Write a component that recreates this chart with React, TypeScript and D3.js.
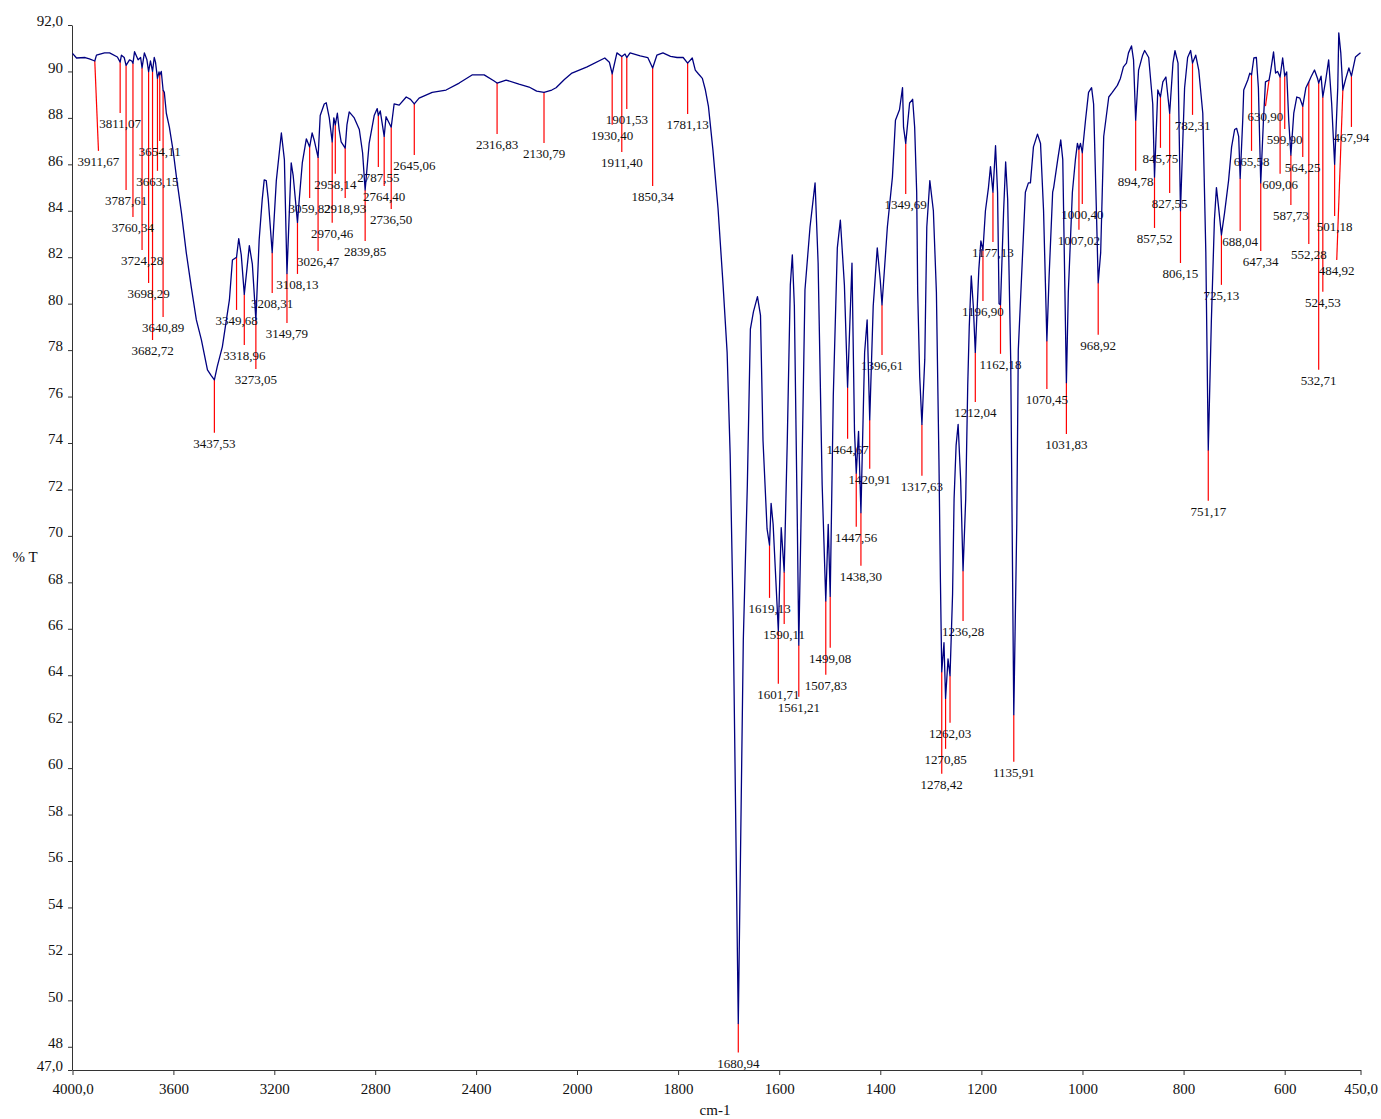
import { useEffect, useRef } from 'react';
import * as d3 from 'd3';

// IR spectrum, [wavenumber cm-1, %T]
const spectrum: [number, number][] = [
  [4000, 90.78], [3984, 90.58], [3950, 90.6], [3933, 90.54], [3911.67, 90.45], [3905, 90.7],
  [3873, 90.8], [3853, 90.8], [3822, 90.62], [3811.07, 90.4], [3806, 90.7], [3795, 90.6],
  [3787.61, 90.26], [3774, 90.5], [3765, 90.45], [3760.34, 90.35], [3754, 90.85], [3740, 90.5],
  [3730, 90.6], [3724.28, 90.15], [3715, 90.8], [3705, 90.5], [3698.29, 89.99], [3691, 90.45],
  [3682.72, 90.0], [3676, 90.6], [3671, 90.4], [3663.15, 89.7], [3657, 89.98], [3654.11, 89.85],
  [3648, 90.0], [3640.89, 89.2], [3636, 89.1], [3628, 88.2], [3616, 87.6], [3600, 86.5],
  [3588, 85.46], [3568, 83.9], [3549, 82.2], [3529, 80.7], [3509, 79.3], [3489, 78.44],
  [3465, 77.15], [3450, 76.9], [3437.53, 76.72], [3426, 77.3], [3406, 78.14], [3378, 80.16],
  [3366, 81.88], [3349.68, 82.0], [3341, 82.8], [3331, 82.1], [3318.96, 80.4], [3299, 82.5],
  [3287, 81.7], [3273.05, 79.3], [3260, 82.75], [3248, 84.47], [3240, 85.33], [3232, 85.3],
  [3224, 84.5], [3208.31, 82.2], [3192, 85.3], [3172, 87.35], [3160, 86.2], [3149.79, 81.3],
  [3133, 86.06], [3125, 85.5], [3108.13, 83.5], [3101, 84.5], [3089, 86.06], [3073, 87.1],
  [3059.82, 86.75], [3050, 87.35], [3042, 87.05], [3026.47, 86.3], [3018, 88.1], [3002, 88.6],
  [2994, 88.65], [2982, 88.0], [2970.46, 86.97], [2964, 88.0], [2958.14, 87.7], [2950, 88.2],
  [2943, 87.5], [2935, 86.97], [2918.93, 86.7], [2912, 87.7], [2903, 88.26], [2883, 88.0],
  [2863, 87.5], [2850, 86.5], [2839.85, 84.9], [2824, 86.9], [2804, 88.1], [2792, 88.4],
  [2787.55, 88.1], [2780, 88.3], [2764.4, 87.2], [2757, 88.05], [2736.5, 87.6], [2725, 88.6],
  [2705, 88.55], [2677, 88.9], [2660, 88.8], [2645.06, 88.6], [2626, 88.85], [2574, 89.1],
  [2519, 89.2], [2467, 89.5], [2416, 89.85], [2368, 89.85], [2330, 89.6], [2316.83, 89.5],
  [2281, 89.63], [2230, 89.45], [2190, 89.33], [2160, 89.15], [2130.79, 89.1], [2100, 89.2],
  [2083, 89.3], [2050, 89.65], [2020, 89.93], [1980, 90.2], [1945, 90.58], [1936, 90.4],
  [1930.4, 89.9], [1921, 90.8], [1911.4, 90.64], [1905, 90.75], [1901.53, 90.6], [1895, 90.8],
  [1875, 90.67], [1860, 90.6], [1850.34, 90.15], [1842, 90.7], [1830, 90.8], [1815, 90.65],
  [1802, 90.6], [1790, 90.6], [1781.13, 90.36], [1772, 90.58], [1766, 90.06], [1760, 89.9],
  [1752, 89.7], [1746, 89.2], [1740, 88.5], [1731, 86.6], [1721, 84.1], [1711, 80.8],
  [1703, 77.9], [1697, 73.5], [1691, 66.4], [1680.94, 49.0], [1671, 65.5], [1663, 72.2],
  [1657, 78.9], [1651, 79.65], [1643, 80.3], [1637, 79.5], [1632, 74.1], [1624, 70.3],
  [1619.13, 69.6], [1616, 71.4], [1612, 70.5], [1601.71, 65.9], [1596, 70.35], [1590.11, 68.45],
  [1584, 74.1], [1578, 80.8], [1574, 82.1], [1570, 79.9], [1564, 70.3], [1561.21, 65.3],
  [1554, 74.1], [1549, 80.6], [1539, 83.3], [1529, 85.2], [1523, 81.75], [1515, 72.2],
  [1507.83, 67.2], [1503, 70.5], [1499.08, 67.4], [1493, 76.0], [1485, 82.4], [1479, 83.6],
  [1471, 80.8], [1464.67, 76.4], [1456, 81.75], [1451, 74.5], [1447.56, 72.7], [1443, 74.5],
  [1438.3, 71.0], [1431, 77.9], [1426, 79.3], [1420.91, 75.0], [1414, 79.9], [1406, 82.4],
  [1400, 81.0], [1396.61, 79.95], [1386, 83.3], [1376, 85.45], [1370, 87.9], [1362, 88.35],
  [1356, 89.3], [1354, 87.6], [1349.69, 86.9], [1342, 88.64], [1336, 88.8], [1332, 87.6],
  [1328, 84.8], [1326, 80.5], [1322, 76.85], [1317.63, 74.8], [1312, 77.6], [1308, 83.3],
  [1302, 85.3], [1295, 84.0], [1289, 80.5], [1284, 73.3], [1281, 68], [1278.42, 64.15],
  [1274, 65.4], [1270.85, 63.0], [1266, 64.7], [1262.03, 63.98], [1257, 67.5], [1254, 71.6],
  [1250, 73.9], [1246, 74.8], [1241, 72.4], [1236.28, 68.5], [1231, 71.6], [1227, 76.5],
  [1224, 79.0], [1220, 81.2], [1216, 79.9], [1212.04, 77.9], [1205, 81.5], [1201, 82.7],
  [1196.9, 82.3], [1192, 84.0], [1186, 85.0], [1182, 85.9], [1177.13, 84.8], [1172, 86.8],
  [1168, 84.8], [1165, 80.0], [1162.18, 79.95], [1156, 84.0], [1152, 86.1], [1148, 84.5],
  [1142, 77.6], [1135.91, 62.3], [1130, 70.5], [1127, 78.0], [1119, 81.9], [1113, 84.8],
  [1107, 85.2], [1103, 85.2], [1097, 86.75], [1089, 87.3], [1083, 86.9], [1077, 84.0],
  [1070.45, 78.4], [1066, 81.2], [1059, 84.8], [1057, 85.0], [1049, 86.2], [1043, 87.05],
  [1039, 86.2], [1031.83, 76.6], [1028, 80.5], [1020, 84.8], [1014, 86.2], [1010, 86.9],
  [1007.02, 86.65], [1004, 86.9], [1000.4, 86.5], [994, 87.9], [988, 89.1], [982, 89.3],
  [978, 88.6], [972, 83.6], [968.92, 80.9], [964, 82.2], [958, 87.2], [948, 88.9],
  [941, 89.1], [931, 89.4], [925, 89.7], [919, 90.2], [913, 90.36], [909, 90.8],
  [903, 91.1], [899, 90.5], [894.78, 87.9], [889, 90.06], [881, 90.7], [877, 90.9],
  [869, 90.6], [861, 88.6], [857.52, 85.45], [851, 89.2], [845.75, 88.9], [841, 89.55],
  [835, 89.76], [827.55, 88.2], [821, 90.36], [817, 90.9], [811, 90.36], [806.15, 84.0],
  [798, 89.3], [792, 90.6], [786, 90.9], [782.31, 90.36], [776, 90.7], [770, 90.06],
  [762, 88.2], [756, 82.2], [751.17, 73.7], [745, 79.3], [739, 83.6], [735, 85.0],
  [731, 84.2], [725.13, 82.96], [719, 83.9], [711, 85.3], [705, 86.75], [699, 87.5],
  [695, 87.55], [691, 87.2], [688.04, 85.4], [683, 87.9], [681, 89.2], [673, 89.63],
  [669, 89.93], [665.58, 89.85], [661, 90.58], [656, 90.6], [652, 89.3], [647.34, 85.2],
  [642, 87.9], [638, 89.55], [630.9, 89.63], [628, 89.98], [622, 90.84], [618, 89.93],
  [614, 90.0], [609.06, 89.76], [604, 90.58], [599.9, 89.8], [596, 89.98], [592, 87.9],
  [587.73, 86.4], [582, 88.2], [576, 88.9], [570, 88.85], [564.25, 88.5], [558, 89.3],
  [552.28, 89.55], [548, 89.76], [541, 90.06], [535, 89.7], [532.71, 89.5], [528, 89.8],
  [524.53, 88.9], [519, 89.6], [513, 90.5], [507, 88.6], [501.18, 86.0], [495, 89.3],
  [493, 91.66], [489, 90.8], [484.92, 89.2], [479, 89.7], [473, 90.15], [467.94, 89.8],
  [460, 90.62], [450, 90.8]
];

// picked peaks: [wavenumber, %T where the marker line ends, wavenumber of the label (if shifted)]
const peaks: [number, number, number?][] = [
  [3911.67, 86.58, 3897], [3811.07, 88.21], [3787.61, 84.9], [3760.34, 83.73], [3724.28, 82.31],
  [3698.29, 80.89], [3682.72, 78.44], [3663.15, 85.72], [3654.11, 87.01], [3640.89, 79.43],
  [3437.53, 74.44], [3349.68, 79.73], [3318.96, 78.22], [3273.05, 77.19], [3208.31, 80.46],
  [3149.79, 79.17], [3108.13, 81.28], [3059.82, 84.55], [3026.47, 82.27], [2970.46, 83.48],
  [2958.14, 85.59], [2918.93, 84.55], [2839.85, 82.7], [2787.55, 85.89], [2764.4, 85.07],
  [2736.5, 84.08], [2645.06, 86.4], [2316.83, 87.31], [2130.79, 86.92], [1930.4, 87.7],
  [1911.4, 86.53], [1901.53, 88.38], [1850.34, 85.07], [1781.13, 88.17], [1680.94, 47.75],
  [1619.13, 67.33], [1601.71, 63.63], [1590.11, 66.21], [1561.21, 63.07], [1507.83, 64.02],
  [1499.08, 65.18], [1464.67, 74.18], [1447.56, 70.39], [1438.3, 68.71], [1420.91, 72.89],
  [1396.61, 77.79], [1349.69, 84.72], [1317.63, 72.59], [1278.42, 59.76], [1270.85, 60.83],
  [1262.03, 61.95], [1236.28, 66.34], [1212.04, 75.77], [1196.9, 80.12], [1177.13, 82.66],
  [1162.18, 77.84], [1135.91, 60.27], [1070.45, 76.33], [1031.83, 74.39], [1007.02, 83.18],
  [1000.4, 84.29], [968.92, 78.66], [894.78, 85.72], [857.52, 83.26], [845.75, 86.71],
  [827.55, 84.77], [806.15, 81.75], [782.31, 88.13], [751.17, 71.51], [725.13, 80.81],
  [688.04, 83.13], [665.58, 86.58], [647.34, 82.27], [630.9, 88.51, 638], [609.06, 85.59],
  [599.9, 87.52], [587.73, 84.25], [564.25, 86.32], [552.28, 82.57], [532.71, 77.15],
  [524.53, 80.51], [501.18, 83.78], [484.92, 81.88, 497], [467.94, 87.61]
];

const xTicks = [4000, 3600, 3200, 2800, 2400, 2000, 1800, 1600, 1400, 1200, 1000, 800, 600, 450];
const yTicks = [92, 90, 88, 86, 84, 82, 80, 78, 76, 74, 72, 70, 68, 66, 64, 62, 60, 58, 56, 54, 52, 50, 48, 47];

const FONT = '"Liberation Serif", "DejaVu Serif", serif';

export default function App() {
  const svgRef = useRef<SVGSVGElement>(null);

  useEffect(() => {
    if (!svgRef.current) return;
    const svg = d3.select(svgRef.current);
    svg.selectAll('*').remove();

    // the wavenumber axis changes scale at 2000 cm-1
    const x = d3.scaleLinear().domain([4000, 2000, 450]).range([72.5, 577, 1360.5]);
    const y = d3.scaleLinear().domain([47, 92]).range([1070, 25]);

    const tAt = (wn: number) => {
      for (let i = 0; i < spectrum.length - 1; i++) {
        const [w0, t0] = spectrum[i];
        const [w1, t1] = spectrum[i + 1];
        if (wn <= w0 && wn >= w1) return t0 + ((w0 - wn) / (w0 - w1)) * (t1 - t0);
      }
      return spectrum[spectrum.length - 1][1];
    };

    const fmt = (v: number, d: number) => v.toFixed(d).replace('.', ',');

    // axes
    const yAxis = d3
      .axisLeft(y)
      .tickValues(yTicks)
      .tickSize(4)
      .tickSizeOuter(0)
      .tickPadding(5)
      .tickFormat((d) => (d === 92 || d === 47 ? fmt(+d, 1) : String(d)));
    const gy = svg.append('g').attr('transform', 'translate(72,0)').call(yAxis);
    gy.selectAll('text').attr('dy', '0.05em').style('font-family', FONT).style('font-size', '15px').attr('fill', '#111');
    gy.selectAll('line, path').attr('stroke', '#333');

    const xAxis = d3
      .axisBottom(x)
      .tickValues(xTicks)
      .tickSize(5)
      .tickSizeOuter(0)
      .tickPadding(8)
      .tickFormat((d) => (d === 4000 || d === 450 ? fmt(+d, 1) : String(d)));
    const gx = svg.append('g').attr('transform', 'translate(0,1070)').call(xAxis);
    gx.selectAll('text').style('font-family', FONT).style('font-size', '15px').attr('fill', '#111');
    gx.selectAll('line, path').attr('stroke', '#333');

    svg
      .append('text')
      .attr('x', 25)
      .attr('y', 562)
      .attr('text-anchor', 'middle')
      .style('font-family', FONT)
      .style('font-size', '15px')
      .attr('fill', '#111')
      .text('% T');

    svg
      .append('text')
      .attr('x', 715)
      .attr('y', 1115)
      .attr('text-anchor', 'middle')
      .style('font-family', FONT)
      .style('font-size', '15px')
      .attr('fill', '#111')
      .text('cm-1');

    // peak marker lines
    const pg = svg.append('g');
    pg.selectAll('line')
      .data(peaks)
      .enter()
      .append('line')
      .attr('x1', (d) => x(d[0]))
      .attr('y1', (d) => y(tAt(d[0])))
      .attr('x2', (d) => x(d[2] ?? d[0]))
      .attr('y2', (d) => y(d[1]))
      .attr('stroke', '#ff0000')
      .attr('stroke-width', 1.2);

    // spectrum
    const line = d3
      .line<[number, number]>()
      .x((d) => x(d[0]))
      .y((d) => y(d[1]));
    svg
      .append('path')
      .datum(spectrum)
      .attr('fill', 'none')
      .attr('stroke', '#000080')
      .attr('stroke-width', 1.3)
      .attr('stroke-linejoin', 'round')
      .attr('d', line);

    // peak labels
    pg.selectAll('text')
      .data(peaks)
      .enter()
      .append('text')
      .attr('x', (d) => x(d[2] ?? d[0]))
      .attr('y', (d) => y(d[1]) + 15)
      .attr('text-anchor', 'middle')
      .style('font-family', FONT)
      .style('font-size', '13px')
      .attr('fill', '#111')
      .text((d) => fmt(d[0], 2));
  }, []);

  return (
    <svg
      ref={svgRef}
      width={1381}
      height={1119}
      style={{ position: 'absolute', left: 0, top: 0, background: '#fff' }}
    />
  );
}
